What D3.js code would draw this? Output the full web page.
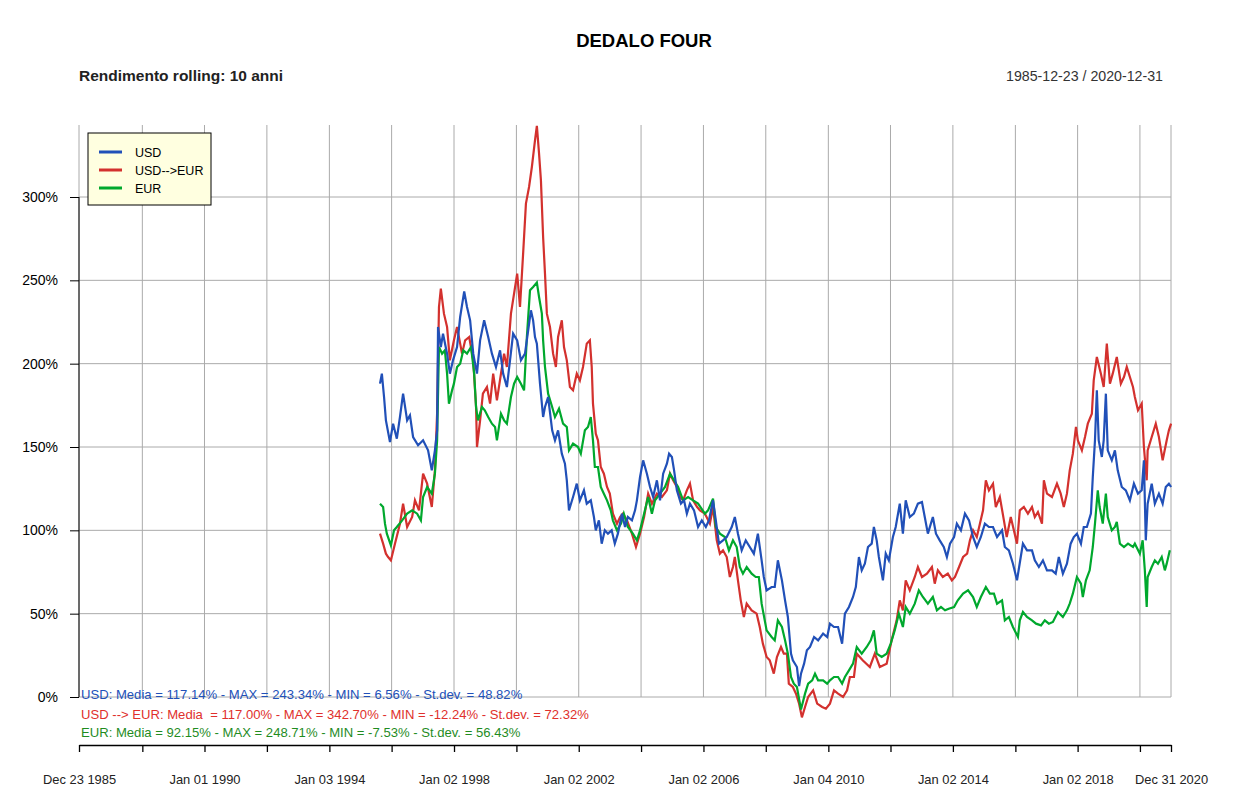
<!DOCTYPE html>
<html>
<head>
<meta charset="utf-8">
<script src="https://cdn.jsdelivr.net/npm/d3@7"></script>
<style>
  body { margin: 0; background: #fff; }
  svg { display: block; font-family: "Liberation Sans", Arial, sans-serif; }
</style>
</head>
<body>
<svg id="chart"></svg>
<script>
var width = 1250;
var height = 796;

// rolling 10y return, [decimal year, %]
var usd = [
  [1995.63,188],[1995.69,194],[1995.76,180],[1995.82,166],[1995.95,153],[1996.05,164],[1996.17,155],[1996.27,168],
  [1996.37,182],[1996.50,166],[1996.59,169],[1996.69,156],[1996.85,151],[1997.01,154],[1997.17,148],[1997.29,136],
  [1997.39,148],[1997.46,160],[1997.49,222],[1997.58,210],[1997.65,218],[1997.78,206],[1997.87,194],[1997.97,202],
  [1998.10,210],[1998.20,228],[1998.33,243.34],[1998.42,234],[1998.52,226],[1998.62,206],[1998.74,194],[1998.84,214],
  [1998.97,226],[1999.10,216],[1999.22,206],[1999.35,198],[1999.48,208],[1999.58,194],[1999.70,186],[1999.80,202],
  [1999.90,218],[2000.03,214],[2000.15,202],[2000.28,206],[2000.47,232],[2000.54,226],[2000.60,216],[2000.66,212],
  [2000.76,188],[2000.86,168],[2000.92,174],[2001.02,180],[2001.15,160],[2001.24,154],[2001.34,160],[2001.46,146],
  [2001.56,140],[2001.62,130],[2001.69,112],[2001.82,120],[2001.94,128],[2002.04,118],[2002.17,124],[2002.26,116],
  [2002.39,118],[2002.49,108],[2002.55,100],[2002.65,106],[2002.74,92],[2002.84,100],[2002.94,98],[2003.06,100],
  [2003.16,92],[2003.26,98],[2003.39,110],[2003.49,102],[2003.58,108],[2003.71,106],[2003.81,112],[2003.87,118],
  [2003.97,132],[2004.07,142],[2004.13,138],[2004.19,134],[2004.29,126],[2004.39,120],[2004.51,130],[2004.61,118],
  [2004.71,134],[2004.83,140],[2004.90,146],[2004.99,144],[2005.06,136],[2005.15,124],[2005.28,116],[2005.38,118],
  [2005.47,110],[2005.57,116],[2005.70,112],[2005.83,102],[2005.95,106],[2006.08,102],[2006.18,106],[2006.31,118],
  [2006.40,106],[2006.50,92],[2006.63,94],[2006.75,96],[2006.91,102],[2007.01,108],[2007.11,98],[2007.23,88],
  [2007.36,94],[2007.49,90],[2007.62,86],[2007.75,98],[2007.87,82],[2007.94,72],[2008.03,64],[2008.19,66],
  [2008.29,66],[2008.39,82],[2008.52,70],[2008.62,58],[2008.71,48],[2008.81,26],[2008.87,22],[2009.00,18],
  [2009.07,6.56],[2009.13,14],[2009.23,20],[2009.32,28],[2009.42,30],[2009.55,36],[2009.68,34],[2009.84,38],
  [2009.97,36],[2010.06,44],[2010.19,42],[2010.32,42],[2010.45,32],[2010.54,50],[2010.67,54],[2010.80,60],
  [2010.89,66],[2010.99,84],[2011.08,76],[2011.18,80],[2011.28,90],[2011.40,92],[2011.47,102],[2011.56,94],
  [2011.63,84],[2011.76,70],[2011.85,86],[2011.95,82],[2012.08,96],[2012.17,102],[2012.30,116],[2012.40,98],
  [2012.49,118],[2012.62,108],[2012.75,110],[2012.88,116],[2013.01,117],[2013.10,108],[2013.20,98],[2013.36,108],
  [2013.46,98],[2013.58,94],[2013.71,90],[2013.81,84],[2013.91,92],[2014.04,96],[2014.13,104],[2014.26,100],
  [2014.39,110],[2014.52,106],[2014.65,96],[2014.77,90],[2014.90,96],[2015.03,104],[2015.16,102],[2015.29,102],
  [2015.42,96],[2015.58,100],[2015.67,90],[2015.80,88],[2015.93,80],[2016.06,70],[2016.18,84],[2016.25,92],
  [2016.38,88],[2016.54,88],[2016.63,82],[2016.76,78],[2016.89,82],[2017.02,76],[2017.18,76],[2017.30,74],
  [2017.40,84],[2017.53,74],[2017.66,80],[2017.78,92],[2017.88,96],[2017.98,98],[2018.11,92],[2018.20,102],
  [2018.30,102],[2018.43,110],[2018.49,132],[2018.56,154],[2018.62,184],[2018.68,154],[2018.78,144],[2018.84,154],
  [2018.91,182],[2018.97,148],[2019.10,142],[2019.20,148],[2019.29,136],[2019.42,126],[2019.55,124],[2019.68,118],
  [2019.81,128],[2019.94,122],[2020.06,124],[2020.13,142],[2020.19,94],[2020.25,116],[2020.38,128],[2020.48,116],
  [2020.61,122],[2020.73,116],[2020.83,126],[2020.93,128],[2021.00,126]
];

var usdEur = [
  [1995.63,98],[1995.73,92],[1995.82,86],[1995.89,84],[1995.98,82],[1996.11,92],[1996.27,104],[1996.37,116],
  [1996.50,102],[1996.66,108],[1996.75,118],[1996.88,112],[1997.01,134],[1997.14,128],[1997.29,114],[1997.39,136],
  [1997.46,170],[1997.52,234],[1997.58,245],[1997.68,230],[1997.78,222],[1997.87,202],[1998.00,214],[1998.10,222],
  [1998.26,206],[1998.36,214],[1998.49,216],[1998.62,202],[1998.71,174],[1998.74,150],[1998.84,166],[1998.93,182],
  [1999.06,186],[1999.16,176],[1999.26,194],[1999.38,178],[1999.51,194],[1999.61,206],[1999.70,198],[1999.83,230],
  [1999.93,242],[2000.03,254],[2000.12,234],[2000.22,266],[2000.31,296],[2000.41,306],[2000.50,318],[2000.60,334],
  [2000.66,342.7],[2000.73,326],[2000.79,310],[2000.86,276],[2000.92,254],[2000.98,230],[2001.08,222],[2001.18,206],
  [2001.27,198],[2001.34,216],[2001.46,226],[2001.53,210],[2001.62,202],[2001.72,186],[2001.82,184],[2001.94,194],
  [2002.04,190],[2002.14,198],[2002.26,212],[2002.36,214],[2002.42,198],[2002.46,176],[2002.55,158],[2002.62,154],
  [2002.71,138],[2002.81,134],[2002.91,126],[2003.00,122],[2003.10,110],[2003.23,104],[2003.33,108],[2003.42,110],
  [2003.55,106],[2003.71,98],[2003.84,90],[2003.97,98],[2004.10,108],[2004.23,122],[2004.35,116],[2004.51,122],
  [2004.67,120],[2004.83,124],[2004.93,134],[2005.03,130],[2005.15,126],[2005.25,120],[2005.35,118],[2005.47,124],
  [2005.57,128],[2005.67,118],[2005.80,114],[2005.89,112],[2006.05,110],[2006.21,104],[2006.31,114],[2006.43,94],
  [2006.53,86],[2006.63,88],[2006.75,84],[2006.85,72],[2006.95,78],[2007.01,84],[2007.11,70],[2007.20,58],
  [2007.30,48],[2007.39,56],[2007.55,52],[2007.71,50],[2007.81,42],[2007.91,32],[2008.03,24],[2008.13,22],
  [2008.26,14],[2008.36,24],[2008.49,30],[2008.58,26],[2008.68,26],[2008.74,8],[2008.87,6],[2008.97,2],
  [2009.07,-4],[2009.16,-12.24],[2009.26,-6],[2009.36,0],[2009.52,4],[2009.65,-4],[2009.81,-6],[2009.93,-7],
  [2010.06,-4],[2010.19,4],[2010.32,2],[2010.48,0],[2010.61,4],[2010.70,12],[2010.83,12],[2010.92,26],
  [2011.11,22],[2011.34,18],[2011.50,26],[2011.66,18],[2011.88,20],[2012.04,34],[2012.20,46],[2012.30,58],
  [2012.40,52],[2012.49,70],[2012.62,64],[2012.78,72],[2012.88,78],[2013.01,72],[2013.17,74],[2013.33,78],
  [2013.42,68],[2013.52,76],[2013.68,72],[2013.84,74],[2013.97,70],[2014.07,72],[2014.20,78],[2014.33,84],
  [2014.46,86],[2014.55,94],[2014.65,100],[2014.77,96],[2014.87,104],[2014.97,112],[2015.06,130],[2015.16,124],
  [2015.29,128],[2015.38,114],[2015.51,120],[2015.64,106],[2015.73,96],[2015.86,108],[2015.96,100],[2016.06,92],
  [2016.15,112],[2016.28,114],[2016.41,110],[2016.54,114],[2016.63,108],[2016.73,111],[2016.86,104],[2016.92,130],
  [2017.02,122],[2017.18,120],[2017.34,128],[2017.46,122],[2017.56,114],[2017.66,122],[2017.75,136],[2017.85,146],
  [2017.95,162],[2018.01,154],[2018.14,148],[2018.24,156],[2018.33,164],[2018.46,170],[2018.52,190],[2018.62,204],
  [2018.75,194],[2018.84,186],[2018.94,212],[2019.04,188],[2019.13,194],[2019.26,204],[2019.39,188],[2019.49,192],
  [2019.58,198],[2019.78,186],[2019.84,180],[2019.94,172],[2020.06,176],[2020.13,150],[2020.22,130],[2020.25,148],
  [2020.38,156],[2020.51,164],[2020.61,156],[2020.73,142],[2020.86,154],[2020.93,160],[2021.00,164]
];

var eur = [
  [1995.63,116],[1995.73,114],[1995.79,104],[1995.85,98],[1995.98,91],[1996.08,100],[1996.17,102],[1996.34,106],
  [1996.50,110],[1996.66,112],[1996.82,110],[1996.94,106],[1997.01,120],[1997.14,126],[1997.29,122],[1997.39,134],
  [1997.46,154],[1997.52,210],[1997.62,206],[1997.71,208],[1997.78,194],[1997.84,176],[1997.94,184],[1998.00,188],
  [1998.10,198],[1998.20,200],[1998.30,208],[1998.42,206],[1998.55,210],[1998.65,194],[1998.71,174],[1998.77,166],
  [1998.90,174],[1998.99,172],[1999.10,168],[1999.22,164],[1999.32,162],[1999.38,154],[1999.51,170],[1999.61,166],
  [1999.70,164],[1999.83,180],[1999.93,188],[2000.03,192],[2000.15,188],[2000.25,184],[2000.34,216],[2000.44,244],
  [2000.54,246],[2000.66,248.71],[2000.73,240],[2000.82,230],[2000.86,214],[2000.92,198],[2001.02,182],[2001.15,174],
  [2001.24,168],[2001.37,173],[2001.50,164],[2001.62,162],[2001.69,148],[2001.82,152],[2001.98,150],[2002.07,146],
  [2002.20,160],[2002.30,162],[2002.39,168],[2002.46,154],[2002.52,138],[2002.62,138],[2002.71,126],[2002.81,122],
  [2002.91,118],[2003.03,112],[2003.10,106],[2003.23,100],[2003.36,104],[2003.45,110],[2003.58,102],[2003.74,98],
  [2003.87,94],[2003.97,100],[2004.10,110],[2004.23,120],[2004.35,110],[2004.45,118],[2004.61,122],[2004.77,126],
  [2004.93,134],[2005.06,130],[2005.19,126],[2005.35,118],[2005.51,120],[2005.67,118],[2005.83,116],[2006.05,110],
  [2006.15,112],[2006.31,119],[2006.40,102],[2006.53,98],[2006.69,96],[2006.82,88],[2006.95,94],[2007.07,90],
  [2007.17,78],[2007.27,74],[2007.39,78],[2007.55,74],[2007.68,72],[2007.78,72],[2007.87,56],[2007.97,46],
  [2008.03,40],[2008.19,36],[2008.29,34],[2008.39,46],[2008.52,42],[2008.62,34],[2008.71,26],[2008.81,12],
  [2008.90,8],[2009.00,6],[2009.13,-7.53],[2009.26,2],[2009.36,8],[2009.49,10],[2009.58,14],[2009.68,10],
  [2009.84,10],[2009.97,8],[2010.06,10],[2010.19,12],[2010.32,12],[2010.45,8],[2010.54,12],[2010.67,16],
  [2010.80,20],[2010.92,30],[2011.08,26],[2011.24,30],[2011.37,34],[2011.47,40],[2011.56,26],[2011.72,24],
  [2011.88,26],[2012.01,32],[2012.14,40],[2012.27,50],[2012.40,42],[2012.49,54],[2012.62,50],[2012.78,56],
  [2012.91,64],[2013.04,60],[2013.20,56],[2013.36,60],[2013.49,52],[2013.62,54],[2013.75,52],[2013.87,53],
  [2014.04,54],[2014.16,58],[2014.33,62],[2014.49,64],[2014.65,60],[2014.77,54],[2014.90,60],[2015.06,66],
  [2015.19,62],[2015.32,62],[2015.42,56],[2015.58,58],[2015.67,46],[2015.80,48],[2015.93,42],[2016.09,36],
  [2016.15,46],[2016.25,51],[2016.38,48],[2016.54,46],[2016.67,44],[2016.83,43],[2016.95,46],[2017.08,44],
  [2017.21,45],[2017.37,51],[2017.53,48],[2017.66,52],[2017.75,56],[2017.85,62],[2017.98,72],[2018.11,68],
  [2018.17,60],[2018.27,70],[2018.39,76],[2018.49,90],[2018.56,104],[2018.65,124],[2018.71,114],[2018.81,104],
  [2018.91,122],[2018.97,108],[2019.10,100],[2019.20,102],[2019.26,105],[2019.36,92],[2019.49,90],[2019.62,92],
  [2019.78,90],[2019.84,92],[2020.00,86],[2020.09,94],[2020.16,76],[2020.22,54],[2020.25,72],[2020.38,78],
  [2020.48,82],[2020.58,80],[2020.70,84],[2020.80,76],[2020.86,80],[2020.96,88]
];

var seriesNames = ["USD", "USD-->EUR", "EUR"];
var seriesColors = ["#2150b8", "#d3312e", "#00a82d"];

var yTicks = [0, 50, 100, 150, 200, 250, 300];

var xTickDates = ["1985-12-23","1988-01-04","1990-01-01","1992-01-02","1994-01-03","1996-01-02",
  "1998-01-02","2000-01-03","2002-01-02","2004-01-02","2006-01-02","2008-01-02","2010-01-04",
  "2012-01-02","2014-01-02","2016-01-04","2018-01-02","2020-01-02","2020-12-31"];
var xTickLabels = ["Dec 23 1985","","Jan 01 1990","","Jan 03 1994","","Jan 02 1998","",
  "Jan 02 2002","","Jan 02 2006","","Jan 04 2010","","Jan 02 2014","","Jan 02 2018","","Dec 31 2020"];

var statLines = [
  "USD: Media = 117.14% - MAX = 243.34% - MIN = 6.56% - St.dev. = 48.82%",
  "USD --> EUR: Media  = 117.00% - MAX = 342.70% - MIN = -12.24% - St.dev. = 72.32%",
  "EUR: Media = 92.15% - MAX = 248.71% - MIN = -7.53% - St.dev. = 56.43%"
];
var statColors = ["#2150b8", "#e0302c", "#1f8c1f"];

var parseDate = d3.timeParse("%Y-%m-%d");

function yearToDate(t) {
  var yr = Math.floor(t);
  var start = new Date(yr, 0, 1);
  var end = new Date(yr + 1, 0, 1);
  return new Date(start.getTime() + (t - yr) * (end - start));
}

var plotLeft = 79, plotRight = 1171, plotTop = 125, plotBottom = 745;

var svg = d3.select("#chart").attr("width", width).attr("height", height);

svg.append("rect").attr("width", width).attr("height", height).attr("fill", "white");

var x = d3.scaleTime()
  .domain([parseDate("1985-12-23"), parseDate("2020-12-31")])
  .range([plotLeft, plotRight]);

var y = d3.scaleLinear()
  .domain([-28.8, 343.2])
  .range([plotBottom, plotTop]);

// grid
svg.append("g")
  .selectAll("line")
  .data(yTicks)
  .enter()
  .append("line")
  .attr("x1", plotLeft)
  .attr("x2", plotRight)
  .attr("y1", function (d) { return y(d); })
  .attr("y2", function (d) { return y(d); })
  .attr("stroke", "#aaaaaa")
  .attr("stroke-width", 1);

svg.append("g")
  .selectAll("line")
  .data(xTickDates)
  .enter()
  .append("line")
  .attr("x1", function (d) { return x(parseDate(d)); })
  .attr("x2", function (d) { return x(parseDate(d)); })
  .attr("y1", plotTop)
  .attr("y2", y(0))
  .attr("stroke", "#aaaaaa")
  .attr("stroke-width", 1);

// y axis
var yAxis = svg.append("g")
  .attr("transform", "translate(" + plotLeft + ",0)")
  .call(d3.axisLeft(y).tickValues(yTicks).tickSize(9).tickPadding(12)
    .tickFormat(function (d) { return d + "%"; }));
yAxis.select(".domain").remove();
yAxis.selectAll("line").attr("stroke", "#000");
yAxis.selectAll("text").attr("font-size", "14px").attr("fill", "#000")
  .attr("font-family", "Liberation Sans, Arial, sans-serif");
yAxis.append("line")
  .attr("x1", 0).attr("x2", 0)
  .attr("y1", y(300)).attr("y2", y(0))
  .attr("stroke", "#000");

// x axis
var xAxis = svg.append("g")
  .attr("transform", "translate(0," + plotBottom + ")")
  .call(d3.axisBottom(x)
    .tickValues(xTickDates.map(parseDate))
    .tickSize(7).tickSizeOuter(0).tickPadding(23)
    .tickFormat(function (d, i) { return xTickLabels[i]; }));
xAxis.select(".domain").attr("stroke", "#000").attr("stroke-width", 1.3);
xAxis.selectAll("line").attr("stroke", "#000").attr("stroke-width", 1.3);
xAxis.selectAll("text").attr("font-size", "12.9px").attr("fill", "#222")
  .attr("font-family", "Liberation Sans, Arial, sans-serif");

// series
var line = d3.line()
  .x(function (d) { return x(yearToDate(d[0])); })
  .y(function (d) { return y(d[1]); });

var allSeries = [usd, usdEur, eur];
[1, 2, 0].forEach(function (i) {
  svg.append("path")
    .datum(allSeries[i])
    .attr("d", line)
    .attr("fill", "none")
    .attr("stroke", seriesColors[i])
    .attr("stroke-width", 2.2)
    .attr("stroke-linejoin", "miter");
});

// stats text
svg.append("g")
  .selectAll("text")
  .data(statLines)
  .enter()
  .append("text")
  .attr("x", 81)
  .attr("y", function (d, i) { return [698.5, 718.5, 736.5][i]; })
  .attr("font-size", "13.1px")
  .attr("fill", function (d, i) { return statColors[i]; })
  .style("white-space", "pre")
  .text(function (d) { return d; });

// legend
var legend = svg.append("g").attr("transform", "translate(88,133)");
legend.append("rect")
  .attr("width", 123).attr("height", 72)
  .attr("fill", "#ffffe0").attr("stroke", "#000").attr("stroke-width", 1);
seriesNames.forEach(function (name, i) {
  var ly = 19 + i * 18;
  legend.append("line")
    .attr("x1", 11).attr("x2", 34)
    .attr("y1", ly).attr("y2", ly)
    .attr("stroke", seriesColors[i]).attr("stroke-width", 3);
  legend.append("text")
    .attr("x", 47).attr("y", ly + 4.5)
    .attr("font-size", "12.5px").attr("fill", "#000")
    .text(name);
});

// titles
svg.append("text")
  .attr("x", 644).attr("y", 47)
  .attr("text-anchor", "middle")
  .attr("font-size", "18.5px").attr("font-weight", "bold")
  .text("DEDALO FOUR");

svg.append("text")
  .attr("x", 79).attr("y", 81)
  .attr("font-size", "15.5px").attr("font-weight", "bold").attr("fill", "#222")
  .text("Rendimento rolling: 10 anni");

svg.append("text")
  .attr("x", 1163).attr("y", 81)
  .attr("text-anchor", "end")
  .attr("font-size", "14.2px").attr("fill", "#333")
  .text("1985-12-23 / 2020-12-31");
</script>
</body>
</html>
